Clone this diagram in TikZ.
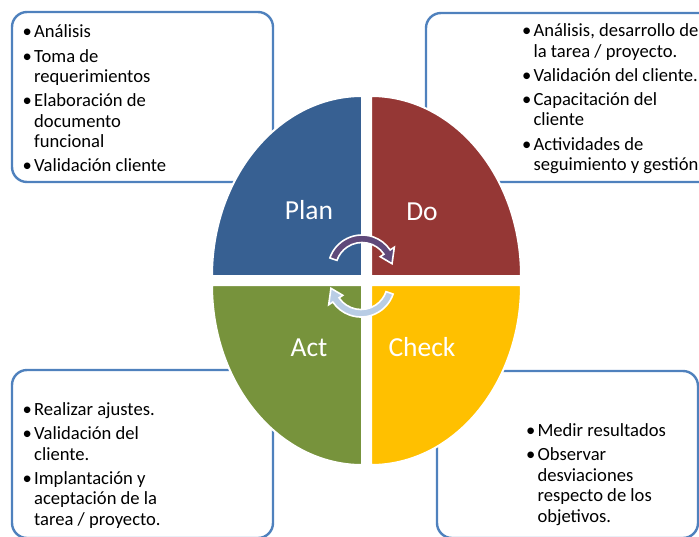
\documentclass[tikz,border=0pt]{standalone}
\usepackage{fontspec}
\setmainfont{Carlito}
\definecolor{planblue}{RGB}{55,96,146}
\definecolor{dored}{RGB}{149,55,53}
\definecolor{actgreen}{RGB}{119,147,60}
\definecolor{checkyellow}{RGB}{255,192,0}
\definecolor{arrowpurple}{RGB}{95,73,122}
\definecolor{arrowblue}{RGB}{185,205,229}
\definecolor{boxline}{RGB}{79,129,189}
\newcommand{\bitem}{\makebox[11.5pt][l]{\textbullet}}
\newcommand{\bcont}{\hspace*{11.5pt}}
\tikzset{
  listbox/.style={draw=boxline, line width=2.4pt, rounded corners=15pt},
  quarter/.style={draw=white, line width=2pt},
  cyclearrow/.style={draw=white, line width=1.6pt},
  phase/.style={text=white, font=\fontsize{27.5}{30}\selectfont, inner sep=0pt, anchor=base},
  bullets/.style={align=left, font=\fontsize{18.6}{20.4}\selectfont, inner sep=0pt, anchor=base west},
}

\begin{document}
\begin{tikzpicture}[x=1pt,y=1pt]
\useasboundingbox (0,0) rectangle (699,-536);
% boxes behind the cycle
\draw[listbox] (12,-12) rectangle (273,-182);
\draw[listbox] (426,-13) rectangle (720,-182);
\draw[listbox] (12,-370) rectangle (273,-538);
\draw[listbox] (437,-371) rectangle (698,-538);
% the four quarters
\path[quarter, fill=planblue] (362,-276) -- (212,-276) arc[start angle=180, end angle=90, x radius=150, y radius=180] -- cycle;
\path[quarter, fill=dored] (371,-276) -- (371,-96) arc[start angle=90, end angle=0, x radius=150, y radius=180] -- cycle;
\path[quarter, fill=actgreen] (362,-285) -- (212,-285) arc[start angle=180, end angle=270, x radius=150, y radius=180] -- cycle;
\path[quarter, fill=checkyellow] (371,-285) -- (521,-285) arc[start angle=0, end angle=-90, x radius=150, y radius=180] -- cycle;
% round arrows in the middle
\begin{scope}[shift={(362,-269)}]
\path[cyclearrow, fill=arrowpurple] (161:34) arc[start angle=161, end angle=34, radius=34]
  -- (34:39) -- (10:30.5) -- (34:22) -- (34:26.5)
  arc[start angle=34, end angle=161, radius=26.5] -- cycle;
\end{scope}
\begin{scope}[shift={(361,-283)}]
\path[cyclearrow, fill=arrowblue] (-19:34) arc[start angle=-19, end angle=-146, radius=34]
  -- (-146:39) -- (-170:30.5) -- (-146:22) -- (-146:26.5)
  arc[start angle=-146, end angle=-19, radius=26.5] -- cycle;
\end{scope}
\node[phase] (plan) at (309,-219) {Plan};
\node[phase] (do) at (422,-220) {Do};
\node[phase] (act) at (309,-356) {Act};
\node[phase] (check) at (422,-356) {Check};
% lists (anchored on the last line)
\node[bullets] (plantxt) at (22.5,-171.7) {\bitem Análisis\\[3.8pt]\bitem Toma de\\\bcont requerimientos\\[3.8pt]\bitem Elaboración de\\\bcont documento\\\bcont funcional\\[3.8pt]\bitem Validación cliente};
\node[bullets] (dotxt) at (521.8,-170.5) {\bitem Análisis, desarrollo de\\\bcont la tarea / proyecto.\\[3.8pt]\bitem Validación del cliente.\\[3.8pt]\bitem Capacitación del\\\bcont cliente\\[3.8pt]\bitem Actividades de\\\bcont seguimiento y gestión};
\node[bullets] (acttxt) at (22.5,-525) {\bitem Realizar ajustes.\\[3.8pt]\bitem Validación del\\\bcont cliente.\\[3.8pt]\bitem Implantación y\\\bcont aceptación de la\\\bcont tarea / proyecto.};
\node[bullets] (checktxt) at (525.8,-522) {\bitem Medir resultados\\[3.8pt]\bitem Observar\\\bcont desviaciones\\\bcont respecto de los\\\bcont objetivos.};
\end{tikzpicture}
\end{document}
